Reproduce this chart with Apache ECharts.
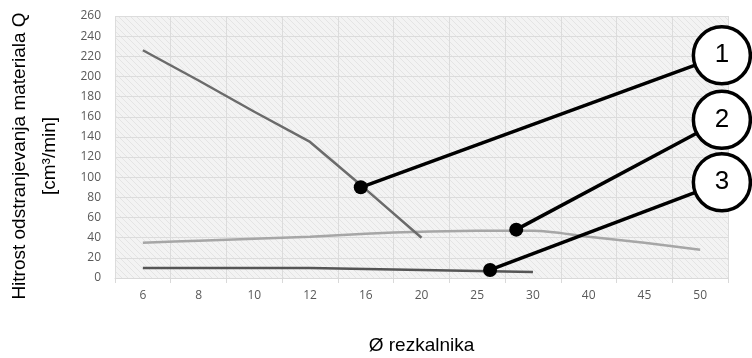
<!DOCTYPE html>
<html><head><meta charset="utf-8">
<script src="https://cdn.jsdelivr.net/npm/echarts@6/dist/echarts.min.js"></script>
<style>html,body{margin:0;padding:0;background:#fff}#c{width:752px;height:358px}</style>
</head><body><div id="c"></div>
<script>
// ---- data ----
var categories = ['6','8','10','12','16','20','25','30','40','45','50'];
var series1 = [226, 196, 165, 135, 88, 40, null, null, null, null, null];
var series2 = [35, 37, 39, 41, 44, 46, 47, 47, 41, 35, 28];
var series3 = [10, 10, 10, 10, 9, 8, 7, 6, null, null, null];
var yTicks = {min: 0, max: 260, interval: 20};
// callouts: [categoryIndex (fractional), value] for the dot, and for the numbered circle
var calloutLabels = ['1', '2', '3'];
var calloutDots = [[3.91, 90], [6.70, 48], [6.23, 8]];
var calloutCircles = [[10.39, 221], [10.39, 157], [10.39, 95]];

// hatch pattern for plot background
var pc = document.createElement('canvas'); pc.width = 6; pc.height = 6;
var g = pc.getContext('2d');
g.fillStyle = '#f3f3f3'; g.fillRect(0,0,6,6);
g.strokeStyle = '#e4e4e4'; g.lineWidth = 1;
g.beginPath(); g.moveTo(-1,-1); g.lineTo(7,7); g.moveTo(-1,5); g.lineTo(1,7); g.moveTo(5,-1); g.lineTo(7,1); g.stroke();

var chart = echarts.init(document.getElementById('c'), null, {renderer: 'canvas'});
var lineSeries = [];
calloutDots.forEach(function (d, i) {
  lineSeries.push({
    type: 'line', xAxisIndex: 1, data: [d, calloutCircles[i]], symbol: 'none', clip: false,
    lineStyle: {color: '#000', width: 3.5}, z: 10, silent: true
  });
});
var option = {
  animation: false,
  grid: {left: 115, right: 24, top: 16, bottom: 80, show: true, outerBoundsMode: 'none', containLabel: false,
         backgroundColor: {image: pc, repeat: 'repeat'}, borderWidth: 0},
  xAxis: [{
    type: 'category', data: categories, boundaryGap: true,
    name: 'Ø rezkalnika', nameLocation: 'middle', nameGap: 58,
    nameTextStyle: {fontFamily: 'Liberation Sans', fontSize: 19, color: '#000'},
    axisLine: {lineStyle: {color: '#d9d9d9'}},
    axisTick: {show: true, length: 5, lineStyle: {color: '#d9d9d9'}},
    axisLabel: {color: '#595959', fontSize: 12, fontFamily: 'Open Sans', margin: 12},
    splitLine: {show: true, lineStyle: {color: '#dcdcdc'}}
  }, {
    type: 'value', min: -0.5, max: 10.5, show: false
  }],
  yAxis: {
    type: 'value', min: yTicks.min, max: yTicks.max, interval: yTicks.interval,
    name: 'Hitrost odstranjevanja materiala Q\n[cm³/min]', nameLocation: 'middle', nameGap: 50,
    nameTextStyle: {fontFamily: 'Liberation Sans', fontSize: 19, color: '#000', lineHeight: 30, padding: [0, 18, 0, 0]},
    axisLine: {show: false}, axisTick: {show: false},
    axisLabel: {color: '#595959', fontSize: 12, fontFamily: 'Open Sans', margin: 14},
    splitLine: {show: true, lineStyle: {color: '#dcdcdc'}}
  },
  series: [
    {type: 'line', data: series1, symbol: 'none', lineStyle: {color: '#6b6b6b', width: 2.5}, z: 3},
    {type: 'line', data: series2, symbol: 'none', smooth: 0.3, lineStyle: {color: '#a6a6a6', width: 2.5}, z: 2},
    {type: 'line', data: series3, symbol: 'none', lineStyle: {color: '#555555', width: 2.5}, z: 3}
  ].concat(lineSeries).concat([
    {type: 'scatter', xAxisIndex: 1, data: calloutDots, symbol: 'circle', symbolSize: 14,
     itemStyle: {color: '#000', opacity: 1}, z: 11, silent: true},
    {type: 'scatter', xAxisIndex: 1, clip: false, symbol: 'circle', symbolSize: 57,
     data: calloutCircles.map(function (c, i) { return {value: c, name: calloutLabels[i]}; }),
     itemStyle: {color: '#fff', borderColor: '#000', borderWidth: 3.5, opacity: 1}, z: 12, silent: true,
     label: {show: true, position: 'inside', formatter: '{b}', color: '#000', fontSize: 26, fontFamily: 'Liberation Sans'}}
  ])
};
chart.setOption(option);
</script></body></html>
